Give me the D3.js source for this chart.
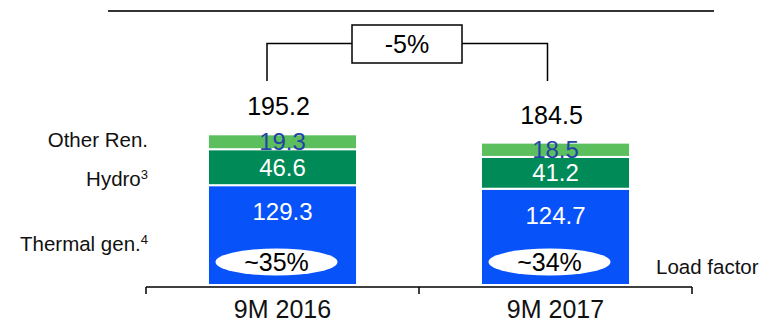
<!DOCTYPE html>
<html><head><meta charset="utf-8">
<script src="https://cdn.jsdelivr.net/npm/d3@7"></script>
<style>body{margin:0;background:#fff}svg{display:block;font-family:"Liberation Sans",Arial,sans-serif}</style>
</head><body><svg id="c" width="767" height="324"></svg>
<script>
const categories = ["9M 2016", "9M 2017"];
const thermal = [129.3, 124.7];
const hydro = [46.6, 41.2];
const otherRen = [19.3, 18.5];
const totals = [195.2, 184.5];
const loadFactor = ["~35%", "~34%"];
const changeLabel = "-5%";
const seriesNames = ["Thermal gen.", "Hydro", "Other Ren."];

const svg = d3.select("#c");
const x = d3.scaleBand().domain(categories).range([146, 692]).paddingInner(0.454).paddingOuter(0.227);
const y = d3.scaleLinear().domain([0, 200]).range([285, 130.6]);

const colors = {thermal: "#0852FA", hydro: "#008A57", other: "#5BBF5E"};
const rows = categories.map((c, i) => ({cat: c, thermal: thermal[i], hydro: hydro[i], other: otherRen[i]}));
const stack = d3.stack().keys(["thermal", "hydro", "other"])(rows);

// top rule
svg.append("line").attr("x1", 108).attr("x2", 714).attr("y1", 11).attr("y2", 11)
  .attr("stroke", "#333").attr("stroke-width", 2);

// bars
stack.forEach(layer => {
  svg.append("g").selectAll("rect").data(layer).join("rect")
    .attr("x", d => x(d.data.cat))
    .attr("width", x.bandwidth())
    .attr("y", d => y(d[1]))
    .attr("height", d => y(d[0]) - y(d[1]))
    .attr("fill", colors[layer.key])
    .attr("stroke", "#fff").attr("stroke-width", 2);
});

// axis
const axis = svg.append("g");
axis.append("line").attr("x1", 146).attr("x2", 692).attr("y1", 287).attr("y2", 287)
  .attr("stroke", "#000").attr("stroke-width", 1.5);
const tickXs = [x.range()[0], (x(categories[0]) + x.bandwidth() + x(categories[1])) / 2, x.range()[1]];
axis.selectAll(".tk").data(tickXs).join("line")
  .attr("x1", d => d).attr("x2", d => d).attr("y1", 287).attr("y2", 294)
  .attr("stroke", "#000").attr("stroke-width", 1.5);
axis.selectAll(".cl").data(categories).join("text")
  .attr("x", d => x(d) + x.bandwidth() / 2).attr("y", 318)
  .attr("text-anchor", "middle").attr("font-size", 25).attr("fill", "#111")
  .text(d => d);

// segment labels
const cx = i => x(categories[i]) + x.bandwidth() / 2;
rows.forEach((r, i) => {
  const g = svg.append("g").attr("text-anchor", "middle");
  g.append("text").attr("x", cx(i)).attr("y", (y(r.thermal + r.hydro) + y(r.thermal + r.hydro + r.other)) / 2 + 8.5)
    .attr("font-size", 24).attr("fill", "#2443A6").text(r.other);
  g.append("text").attr("x", cx(i)).attr("y", (y(r.thermal) + y(r.thermal + r.hydro)) / 2 + 8.5)
    .attr("font-size", 24).attr("fill", "#fff").text(r.hydro);
  g.append("text").attr("x", cx(i)).attr("y", y(r.thermal) + 35)
    .attr("font-size", 24).attr("fill", "#fff").text(r.thermal);
  g.append("text").attr("x", cx(i) - 4).attr("y", y(totals[i]) - 19)
    .attr("font-size", 25).attr("fill", "#000").text(totals[i]);
  // load factor ellipse
  g.append("ellipse").attr("cx", cx(i) - 6).attr("cy", 262).attr("rx", 61).attr("ry", 13.5).attr("fill", "#fff");
  g.append("text").attr("x", cx(i) - 6).attr("y", 271)
    .attr("font-size", 25).attr("fill", "#000").text(loadFactor[i]);
});

// left labels
const left = svg.append("g").attr("text-anchor", "end").attr("font-size", 20.5).attr("fill", "#111");
left.append("text").attr("x", 148).attr("y", 147).text(seriesNames[2]);
const h = left.append("text").attr("x", 148).attr("y", 186);
h.append("tspan").text(seriesNames[1]);
h.append("tspan").attr("font-size", 13).attr("dy", -7).text("3");
const t = left.append("text").attr("x", 148).attr("y", 251);
t.append("tspan").text(seriesNames[0]);
t.append("tspan").attr("font-size", 13).attr("dy", -7).text("4");
svg.append("text").attr("x", 656).attr("y", 274).attr("font-size", 20.5).attr("fill", "#111").text("Load factor");

// bracket
const b = svg.append("g").attr("stroke", "#000").attr("stroke-width", 1.5).attr("fill", "none");
b.append("path").attr("d", `M267,81 V43.5 H352 M462,43.5 H547.5 V81`);
b.append("rect").attr("x", 352).attr("y", 25).attr("width", 110).attr("height", 38).attr("fill", "#fff");
svg.append("text").attr("x", 407).attr("y", 53).attr("text-anchor", "middle")
  .attr("font-size", 25).attr("fill", "#000").text(changeLabel);
</script></body></html>
